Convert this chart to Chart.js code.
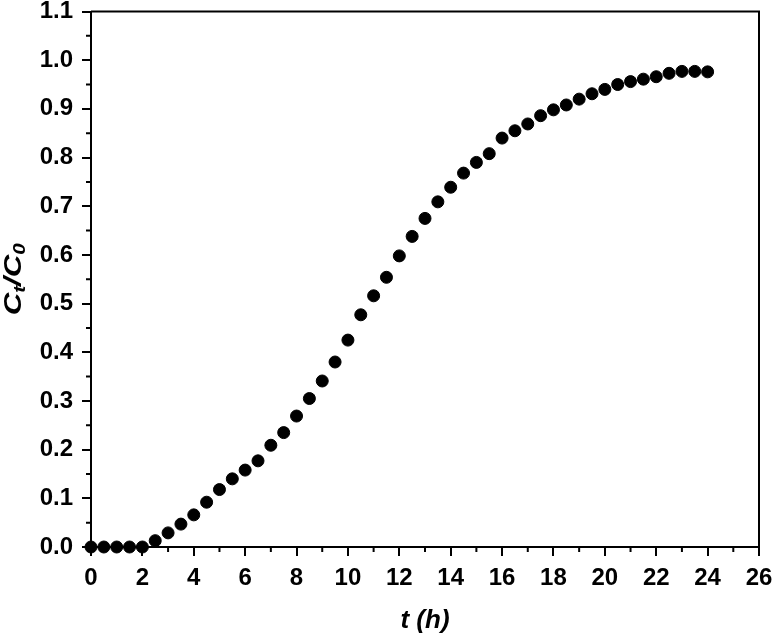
<!DOCTYPE html>
<html><head><meta charset="utf-8">
<script src="https://cdn.jsdelivr.net/npm/chart.js@4/dist/chart.umd.min.js"></script>
<style>html,body{margin:0;padding:0;background:#fff}canvas{display:block}</style>
</head><body>
<canvas id="c" width="774" height="638"></canvas>
<script>
const timeHours = [0,0.5,1,1.5,2,2.5,3,3.5,4,4.5,5,5.5,6,6.5,7,7.5,8,8.5,9,9.5,10,10.5,11,11.5,12,12.5,13,13.5,14,14.5,15,15.5,16,16.5,17,17.5,18,18.5,19,19.5,20,20.5,21,21.5,22,22.5,23,23.5,24];
const ctOverC0 = [0,0,0,0,0,0.013,0.029,0.047,0.066,0.092,0.118,0.140,0.158,0.177,0.209,0.235,0.269,0.305,0.341,0.380,0.425,0.477,0.516,0.554,0.598,0.638,0.675,0.709,0.739,0.768,0.790,0.808,0.840,0.855,0.869,0.886,0.898,0.908,0.920,0.931,0.940,0.950,0.956,0.961,0.966,0.973,0.977,0.977,0.976];
const xAxisRange = [0, 26];
const yAxisRange = [0, 1.1];
const xMajorStep = 2, xMinorStep = 1;
const yMajorStep = 0.1, yMinorStep = 0.05;
const xTitle = 't (h)';
const yTitleParts = ['C', 't', '/C', '0'];

const FONT = '"Liberation Sans", Arial, sans-serif';

const framePlugin = {
  id: 'frame',
  afterDraw(chart) {
    const {ctx, chartArea: a, scales: {x, y}} = chart;
    ctx.save();
    ctx.strokeStyle = '#000';
    ctx.lineWidth = 2;
    ctx.beginPath();
    ctx.moveTo(a.left, a.top); ctx.lineTo(a.right, a.top); ctx.lineTo(a.right, a.bottom);
    ctx.stroke();
    // minor ticks
    ctx.beginPath();
    for (let v = xAxisRange[0] + xMinorStep; v < xAxisRange[1]; v += 2 * xMinorStep) {
      const px = x.getPixelForValue(v);
      ctx.moveTo(px, a.bottom); ctx.lineTo(px, a.bottom + 5);
    }
    for (let k = 1; k < 22; k += 2) {
      const py = y.getPixelForValue(k * yMinorStep);
      ctx.moveTo(a.left, py); ctx.lineTo(a.left - 5, py);
    }
    ctx.stroke();
    // x title
    ctx.fillStyle = '#000';
    ctx.font = 'italic bold 26px ' + FONT;
    ctx.textAlign = 'center';
    ctx.textBaseline = 'alphabetic';
    ctx.fillText(xTitle, (a.left + a.right) / 2, 628);
    // y title with subscripts
    ctx.translate(21, (a.top + a.bottom) / 2);
    ctx.rotate(-Math.PI / 2);
    ctx.scale(1.3, 1);
    const big = 'italic bold 24px ' + FONT, small = 'italic bold 16px ' + FONT;
    const widths = yTitleParts.map((s, i) => { ctx.font = i % 2 ? small : big; return ctx.measureText(s).width; });
    const total = widths.reduce((p, c) => p + c, 0);
    let cx = -total / 2;
    ctx.textAlign = 'left';
    yTitleParts.forEach((s, i) => {
      ctx.font = i % 2 ? small : big;
      ctx.fillText(s, cx, i % 2 ? 4 : 0);
      cx += widths[i];
    });
    ctx.restore();
  }
};

new Chart(document.getElementById('c'), {
  type: 'scatter',
  data: {
    datasets: [{
      data: timeHours.map((t, i) => ({x: t, y: ctOverC0[i]})),
      backgroundColor: '#000',
      borderColor: '#000',
      pointRadius: 6,
      pointHoverRadius: 6,
      clip: false
    }]
  },
  options: {
    responsive: false,
    animation: false,
    events: [],
    layout: {padding: {top: 11.5, right: 15, left: 0, bottom: 0}},
    plugins: {legend: {display: false}, tooltip: {enabled: false}},
    scales: {
      x: {
        type: 'linear', min: xAxisRange[0], max: xAxisRange[1],
        ticks: {stepSize: xMajorStep, color: '#000', font: {family: FONT, size: 24, weight: 'bold'}, padding: 8, maxRotation: 0},
        grid: {drawOnChartArea: false, drawTicks: true, tickLength: 9, color: '#000', lineWidth: 2},
        border: {color: '#000', width: 2},
        afterFit(s) { s.height = 91; s.paddingLeft = 0; s.paddingRight = 0; }
      },
      y: {
        min: yAxisRange[0], max: yAxisRange[1],
        ticks: {stepSize: yMajorStep, color: '#000', font: {family: FONT, size: 24, weight: 'bold'}, padding: 9,
          callback: v => Number(v).toFixed(1)},
        grid: {drawOnChartArea: false, drawTicks: true, tickLength: 9, color: '#000', lineWidth: 2},
        border: {color: '#000', width: 2},
        afterFit(s) { s.width = 91; s.paddingTop = 0; s.paddingBottom = 0; }
      }
    }
  },
  plugins: [framePlugin]
});
</script>
</body></html>
